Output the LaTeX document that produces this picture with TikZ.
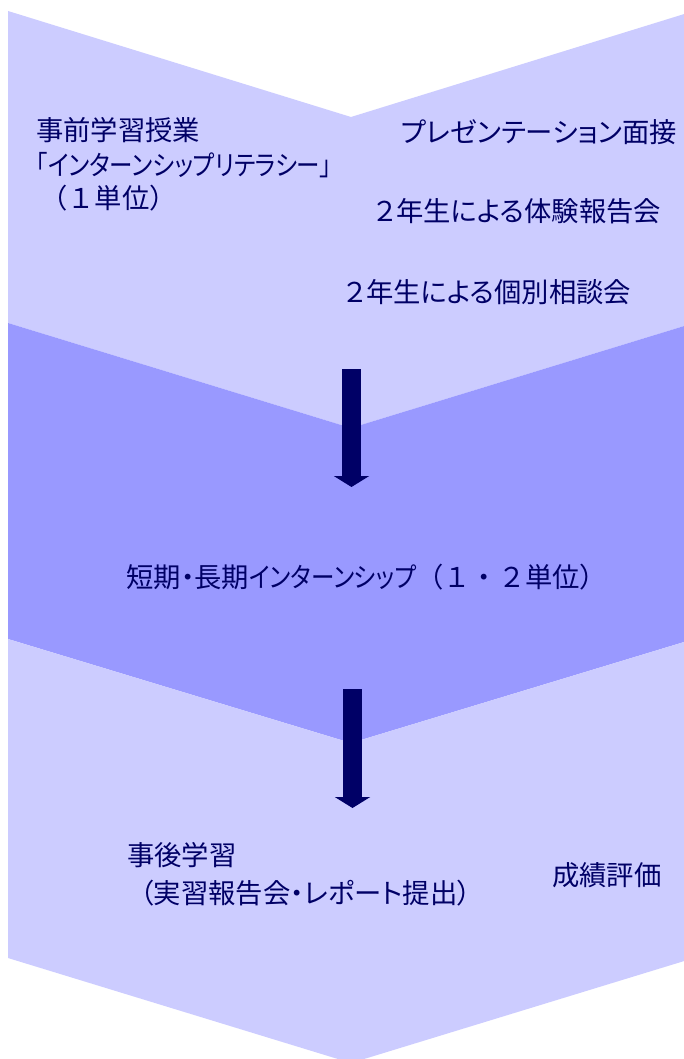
\documentclass[tikz,border=0pt]{standalone}
\usepackage{fontspec}
\newfontfamily\jp{Noto Sans CJK JP}
\newfontfamily\jpp[RawFeature=+palt]{Noto Sans CJK JP}
\newfontfamily\jpn[RawFeature=+palt,FakeStretch=0.86]{Noto Sans CJK JP}
\usetikzlibrary{arrows.meta}
\definecolor{bandlight}{HTML}{CCCCFF}
\definecolor{banddark}{HTML}{9999FF}
\definecolor{navy}{HTML}{000066}

\begin{document}
\begin{tikzpicture}[x=0.75pt,y=-0.75pt]
            \tikzset{band/.style = {fill=bandlight, draw=none}}
            \tikzset{midband/.style = {fill=banddark, draw=none}}
            \tikzset{flow/.style = {draw=navy, line width=14.25pt, -{Triangle[width=26.25pt,length=8.25pt]}}}
            \tikzset{txt/.style = {font=\jpp\fontsize{20.5}{24}\selectfont, text=navy, inner sep=0pt, anchor=west}}
            \useasboundingbox (0,0) rectangle (684,1059);
            \fill[white] (0,0) rectangle (684,1059);
            \clip (0,0) rectangle (684,1059);
            % bands
            \fill[band] (8,11) -- (351,117) -- (694,11) -- (694,323) -- (351,428) -- (8,323) -- cycle;
            \fill[midband] (8,323) -- (351,428) -- (694,323) -- (694,639) -- (351,743) -- (8,639) -- cycle;
            \fill[band] (8,639) -- (351,743) -- (694,639) -- (694,958) -- (351,1063) -- (8,958) -- cycle;
            % arrows
            \coordinate (top1) at (351.5,369);
            \coordinate (tip1) at (351.5,487);
            \coordinate (top2) at (352.5,689);
            \coordinate (tip2) at (352.5,808);
            \draw[flow] (top1) -- (tip1);
            \draw[flow] (top2) -- (tip2);
            % texts
            \node[txt] (prep) at (36,130) {事前学習授業};
            \node[txt] (lit) at (36,165) {\jpn 「インターンシップリテラシー」};
            \node[txt] (unit) at (40,198) {\jp （１単位）};
            \node[txt] (pres) at (401,132) {プレゼンテーション面接};
            \node[txt] (talk) at (375,211) {２年生による体験報告会};
            \node[txt] (consult) at (345,292) {２年生による個別相談会};
            \node[txt] (intern) at (126,577) {短期・長期{\jpn インターンシップ}{\jp （１・２}単位）};
            \node[txt] (post) at (127,855) {事後学習};
            \node[txt] (report) at (140,893) {（実習報告会・レポート提出）};
            \node[txt] (grade) at (552,875) {成績評価};
        \end{tikzpicture}
\end{document}
